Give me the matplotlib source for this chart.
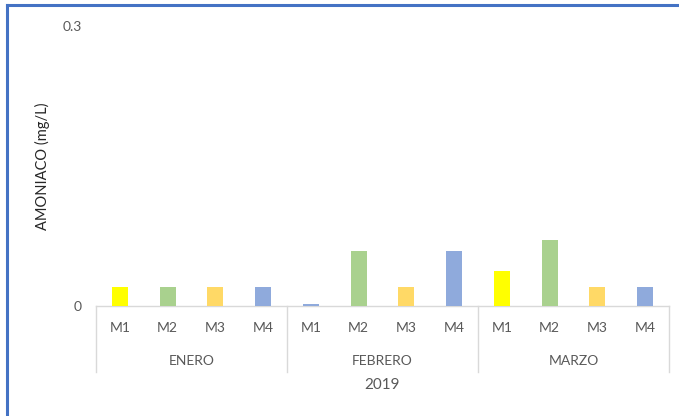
import matplotlib

matplotlib.use("Agg")
import matplotlib.pyplot as plt
from matplotlib.lines import Line2D
import numpy as np

plt.rcParams.update({"font.family": ["Lato", "DejaVu Sans"]})

# Amoniaco por mes y punto de muestreo (mg/L)
meses = ["ENERO", "FEBRERO", "MARZO"]
puntos = ["M1", "M2", "M3", "M4"]
enero = [0.02, 0.02, 0.02, 0.02]
febrero = [0.002, 0.059, 0.02, 0.059]
marzo = [0.038, 0.071, 0.02, 0.02]
anio = "2019"

colores_enero = ["#FFFF00", "#A9D18E", "#FFD966", "#8FAADC"]
colores_febrero = ["#8FAADC", "#A9D18E", "#FFD966", "#8FAADC"]
colores_marzo = ["#FFFF00", "#A9D18E", "#FFD966", "#8FAADC"]
GRIS = "#595959"
LINEA = "#D9D9D9"

valores = enero + febrero + marzo
colores = colores_enero + colores_febrero + colores_marzo
etiquetas = puntos * len(meses)
x = np.arange(len(valores))

fig = plt.figure(figsize=(6.79, 4.16), dpi=100)
ax = fig.add_axes([96 / 679, 110 / 416, 573 / 679, 280 / 416])

ax.bar(x, valores, width=0.34, color=colores, zorder=3)
ax.set_xlim(-0.5, len(valores) - 0.5)
ax.set_ylim(0, 0.3)

for s in ["top", "right", "left"]:
    ax.spines[s].set_visible(False)
ax.spines["bottom"].set_color(LINEA)
ax.spines["bottom"].set_linewidth(1.0)

ax.set_xticks([])
ax.set_yticks([0, 0.3], ["0", "0.3"])
ax.tick_params(axis="y", length=0, pad=10, labelcolor=GRIS, labelsize=10)

# Eje de categorias en dos niveles + anio
tr = ax.get_xaxis_transform()
for xi, lab in zip(x, etiquetas):
    ax.text(xi, -22 / 280, lab, transform=tr, ha="center", va="center",
            fontsize=10, color=GRIS)
n = len(puntos)
for i, mes in enumerate(meses):
    centro = i * n + (n - 1) / 2
    ax.text(centro, -55 / 280, mes, transform=tr, ha="center", va="center",
            fontsize=10, color=GRIS)
for i in range(len(meses) + 1):
    xb = i * n - 0.5
    ax.add_line(Line2D([xb, xb], [0, -66 / 280], transform=tr, color=LINEA,
                       lw=1.0, clip_on=False))
ax.text((len(valores) - 1) / 2, -79 / 280, anio, transform=tr, ha="center",
        va="center", fontsize=11, color=GRIS)

ax.set_ylabel("AMONIACO (mg/L)", fontsize=10.5, color="#262626")
ax.yaxis.set_label_coords(-46 / 573, 0.5)

# Marco azul (solo lados superior e izquierdo)
fig.add_artist(Line2D([7 / 679, 1], [1 - 5 / 416, 1 - 5 / 416],
                      transform=fig.transFigure, color="#4472C4", lw=2.2))
fig.add_artist(Line2D([7 / 679, 7 / 679], [0, 1 - 5 / 416],
                      transform=fig.transFigure, color="#4472C4", lw=2.2))

fig.savefig("out.png", dpi=100)
